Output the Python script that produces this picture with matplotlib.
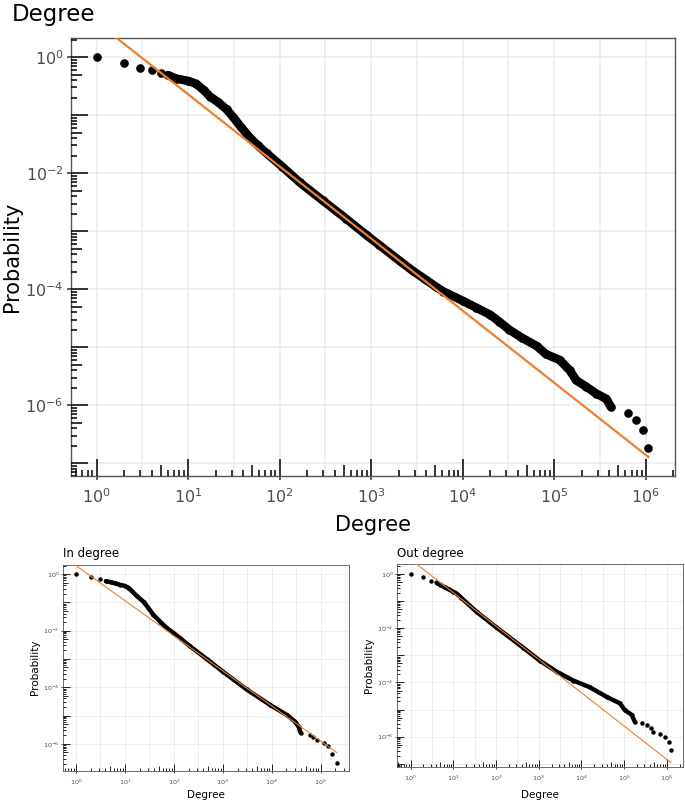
import numpy as np
import matplotlib
matplotlib.use('Agg')
import matplotlib.pyplot as plt
from matplotlib.ticker import FixedLocator, FuncFormatter, NullLocator

plt.rcParams['font.family'] = ['DejaVu Sans']

# values, as log10(degree) / log10(probability)
main_ldeg = [0, .301, .477, .602, .699, .778, .87, 1.0, 1.09, 1.17, 1.24, 1.33, 1.42, 1.49, 1.58, 1.67,
             1.76, 1.86, 2.03, 2.22, 2.47, 2.73, 2.95, 3.09, 3.31, 3.46, 3.60, 3.71, 3.79, 4.0, 4.15,
             4.30, 4.40, 4.51, 4.65, 4.81, 4.91, 5.06, 5.17, 5.24, 5.35, 5.46, 5.57, 5.62,
             5.81, 5.89, 5.97, 6.03]
main_lprob = [0, -.098, -.184, -.23, -.28, -.31, -.37, -.41, -.46, -.57, -.68, -.78, -.90, -1.03, -1.21, -1.38,
              -1.52, -1.66, -1.89, -2.16, -2.47, -2.79, -3.07, -3.24, -3.51, -3.69, -3.84, -3.96, -4.04, -4.20, -4.32,
              -4.44, -4.56, -4.70, -4.84, -4.98, -5.12, -5.22, -5.40, -5.57, -5.68, -5.80, -5.89, -6.03,
              -6.13, -6.26, -6.43, -6.73]
main_dense = (5, 44)        # index range where the dots merge into a band
main_fit = (0.602, -1.243)  # intercept, slope of the fitted power law (log10)

in_ldeg = [0, .30, .48, .61, .72, .80, .90, 1.0, 1.07, 1.14, 1.24, 1.38, 1.48, 1.58, 1.72, 1.85,
           1.99, 2.13, 2.33, 2.67, 3.01, 3.49, 3.97, 4.31, 4.48, 4.55, 4.59,
           4.79, 4.85, 4.92, 5.07, 5.16, 5.23, 5.33]
in_lprob = [0, -.09, -.19, -.25, -.29, -.33, -.38, -.42, -.48, -.60, -.77, -.98, -1.20, -1.44, -1.68, -1.90,
            -2.08, -2.27, -2.55, -3.00, -3.46, -4.08, -4.63, -4.98, -5.22, -5.40, -5.61,
            -5.69, -5.75, -5.87, -5.96, -6.08, -6.36, -6.67]
in_dense = (3, 27)
in_fit = (0.30, -1.24)

out_ldeg = [0, .30, .48, .61, .70, .80, .90, 1.0, 1.08, 1.19, 1.55, 2.01, 2.64, 3.03, 3.42, 3.81,
            4.20, 4.59, 4.90, 5.02, 5.18, 5.25,
            5.41, 5.53, 5.64, 5.68, 5.85, 5.96, 6.05, 6.10]
out_lprob = [0, -.12, -.25, -.32, -.39, -.49, -.57, -.65, -.72, -.88, -1.40, -1.97, -2.72, -3.20, -3.60, -3.93,
             -4.18, -4.53, -4.77, -5.02, -5.20, -5.45,
             -5.49, -5.57, -5.69, -5.82, -5.92, -6.03, -6.21, -6.49]
out_dense = (3, 22)
out_fit = (0.541, -1.23)

orange = '#EE7F2D'
W, H = 685, 801
fig = plt.figure(figsize=(W/100, H/100), dpi=100)


def make_panel(box, ldeg, lprob, dense, fit, xlim, ylim, xlabs, ms, fitlw, ticks_px, tick_fs, tlen, xpad):
    left, top, right, bottom = box
    ax = fig.add_axes([left/W, 1-bottom/H, (right-left)/W, (bottom-top)/H])
    ax.set_xscale('log')
    ax.set_yscale('log')
    deg = 10.0**np.array(ldeg)
    prob = 10.0**np.array(lprob)
    a, b = dense
    ax.plot(deg[a:b], prob[a:b], '-', color='k', lw=ms, solid_capstyle='round', solid_joinstyle='round', zorder=3)
    ax.plot(deg, prob, 'o', color='k', ms=ms, mec='none', zorder=3)
    fx = np.array([1.0, deg.max()])
    ax.plot(fx, 10.0**fit[0]*fx**fit[1], color=orange, lw=fitlw, zorder=4)
    ax.set_xlim(10.0**xlim[0], 10.0**xlim[1])
    ax.set_ylim(10.0**ylim[0], 10.0**ylim[1])

    # grid: decades and half decades on x, every decade on y
    glw = 1.1 if ms > 4 else 0.6
    for d in range(-1, 8):
        ax.axvline(10.0**d, color='#EBEBEB', lw=glw, zorder=0)
        ax.axvline(10.0**(d+0.5), color='#EBEBEB', lw=glw, zorder=0)
    for d in range(-9, 2):
        ax.axhline(10.0**d, color='#EBEBEB', lw=glw, zorder=0)

    # log ticks drawn inside the panel (long / mid / short)
    hpx = bottom - top
    wpx = right - left
    long_px, mid_px, short_px = ticks_px
    tlw = 1.1 if ms > 4 else 0.6
    for d in range(-9, 8):
        for k in range(1, 10):
            v = k * 10.0**d
            L = long_px if k == 1 else (mid_px if k == 5 else short_px)
            ax.vlines(v, 0, L/hpx, transform=ax.get_xaxis_transform(), colors='k', lw=tlw, zorder=5)
            ax.hlines(v, 0, L/wpx, transform=ax.get_yaxis_transform(), colors='k', lw=tlw, zorder=5)

    ax.xaxis.set_major_locator(FixedLocator([10.0**d for d in xlabs]))
    ax.yaxis.set_major_locator(FixedLocator([10.0**d for d in [0, -2, -4, -6]]))
    ax.xaxis.set_minor_locator(NullLocator())
    ax.yaxis.set_minor_locator(NullLocator())
    fmt = FuncFormatter(lambda v, p: r'$10^{%d}$' % round(np.log10(v)))
    ax.xaxis.set_major_formatter(fmt)
    ax.yaxis.set_major_formatter(fmt)
    ax.tick_params(length=tlen, width=tlw, color='#333333', labelcolor='#4D4D4D',
                   labelsize=tick_fs, pad=tlen*0.8)
    ax.tick_params(axis='x', pad=xpad)
    for s in ax.spines.values():
        s.set_color('#555555')
        s.set_linewidth(1.0 if ms > 4 else 0.6)
    return ax


ax1 = make_panel((71, 38, 675, 476), main_ldeg, main_lprob, main_dense, main_fit,
                 (-0.28, 6.32), (-7.22, 0.33), range(0, 7), 6.2, 1.6, (17, 11, 6), 11.5, 3, 5)
ax2 = make_panel((63.3, 565, 349, 770.7), in_ldeg, in_lprob, in_dense, in_fit,
                 (-0.26, 5.58), (-6.95, 0.32), range(0, 6), 3.2, 0.8, (7, 4.5, 2.5), 4.6, 1.5, 3.2)
ax3 = make_panel((397.3, 564.3, 683, 766.7), out_ldeg, out_lprob, out_dense, out_fit,
                 (-0.31, 6.38), (-7.11, 0.36), range(0, 7), 3.2, 0.8, (7, 4.5, 2.5), 4.6, 1.5, 3.2)

# titles and axis labels
fig.text(12/W, 1-21/H, 'Degree', fontsize=16.5, ha='left', va='baseline')
fig.text(373/W, 1-531/H, 'Degree', fontsize=15, ha='center', va='baseline')
fig.text(12.5/W, 1-257/H, 'Probability', fontsize=15, rotation=90, ha='center', va='center')

fig.text(63/W, 1-556.5/H, 'In degree', fontsize=8.5, ha='left', va='baseline')
fig.text(397/W, 1-556.5/H, 'Out degree', fontsize=8.5, ha='left', va='baseline')
fig.text(206/W, 1-797.5/H, 'Degree', fontsize=7.5, ha='center', va='baseline')
fig.text(540/W, 1-797.5/H, 'Degree', fontsize=7.5, ha='center', va='baseline')
fig.text(35/W, 1-667/H, 'Probability', fontsize=7.5, rotation=90, ha='center', va='center')
fig.text(369/W, 1-665/H, 'Probability', fontsize=7.5, rotation=90, ha='center', va='center')

plt.savefig('out.png', dpi=100)
